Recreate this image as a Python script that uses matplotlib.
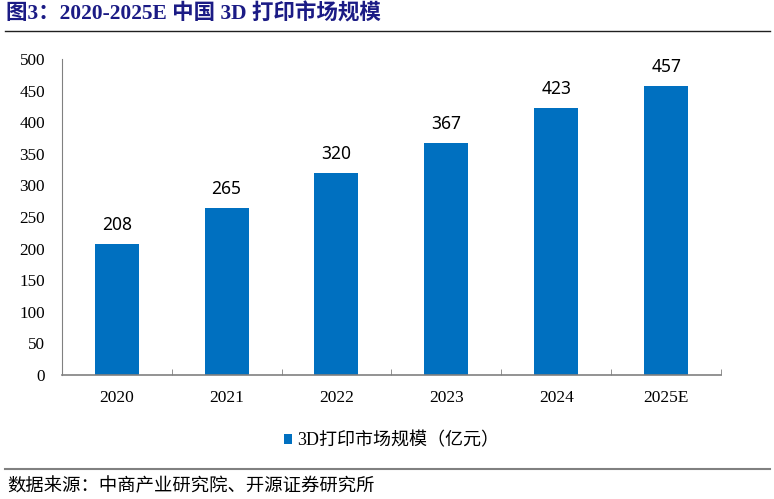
import numpy as np
import matplotlib.pyplot as plt
from matplotlib.lines import Line2D

plt.rcParams['font.family'] = ['Liberation Serif', 'Noto Sans CJK SC']

# data
years = ['2020', '2021', '2022', '2023', '2024', '2025E']
market_size = [208, 265, 320, 367, 423, 457]
series_name = '3D打印市场规模（亿元）'
title = '图3：2020-2025E 中国 3D 打印市场规模'
source = '数据来源：中商产业研究院、开源证券研究所'

bar_color = '#0070C0'

fig = plt.figure(figsize=(7.74, 4.99), dpi=100)
ax = fig.add_axes([0.0797, 0.2485, 0.852, 0.6333])

x = np.arange(len(years))
bars = ax.bar(x, market_size, width=0.4, color=bar_color, label=series_name)

for xi, v in zip(x, market_size):
    ax.annotate(str(v), (xi, v), xytext=(0, 7), textcoords='offset points',
                ha='center', va='bottom', fontsize=12.5, family=['Noto Sans'])

ax.set_xlim(-0.5, len(years) - 0.5)
ax.set_ylim(0, 500)
ax.set_yticks(np.arange(0, 501, 50))
ax.set_xticks(x)
ax.set_xticklabels(years)
ax.set_xticks(np.arange(0.5, len(years), 1), minor=True)
ax.tick_params(axis='x', which='major', length=0, labelsize=12.5, pad=11)
ax.tick_params(axis='x', which='minor', direction='in', length=4, color='#808080')
ax.tick_params(axis='y', length=0, labelsize=12.3, pad=12)

for s in ['top', 'right']:
    ax.spines[s].set_visible(False)
ax.spines['left'].set_color('#808080')
ax.spines['bottom'].set_color('#808080')
ax.spines['bottom'].set_linewidth(1.2)

leg = ax.legend(loc='upper center', bbox_to_anchor=(0.5, -0.13), frameon=False,
                fontsize=13, handlelength=0.45, handleheight=0.45, handletextpad=0.3)

# title and source
fig.text(0.008, 0.972, title, fontsize=15.5, fontweight='bold', color='#1B1B85',
         ha='left', va='center', family=['Liberation Serif', 'Noto Sans CJK SC'])
fig.add_artist(Line2D([0.006, 0.995], [0.938, 0.938], color='#202020', lw=1.0))
fig.add_artist(Line2D([0.006, 0.995], [0.06, 0.06], color='#808080', lw=1.5))
fig.text(0.01, 0.026, source, fontsize=13.2, ha='left', va='center',
         family=['Noto Sans CJK SC'])

plt.savefig('out.png', dpi=100)
